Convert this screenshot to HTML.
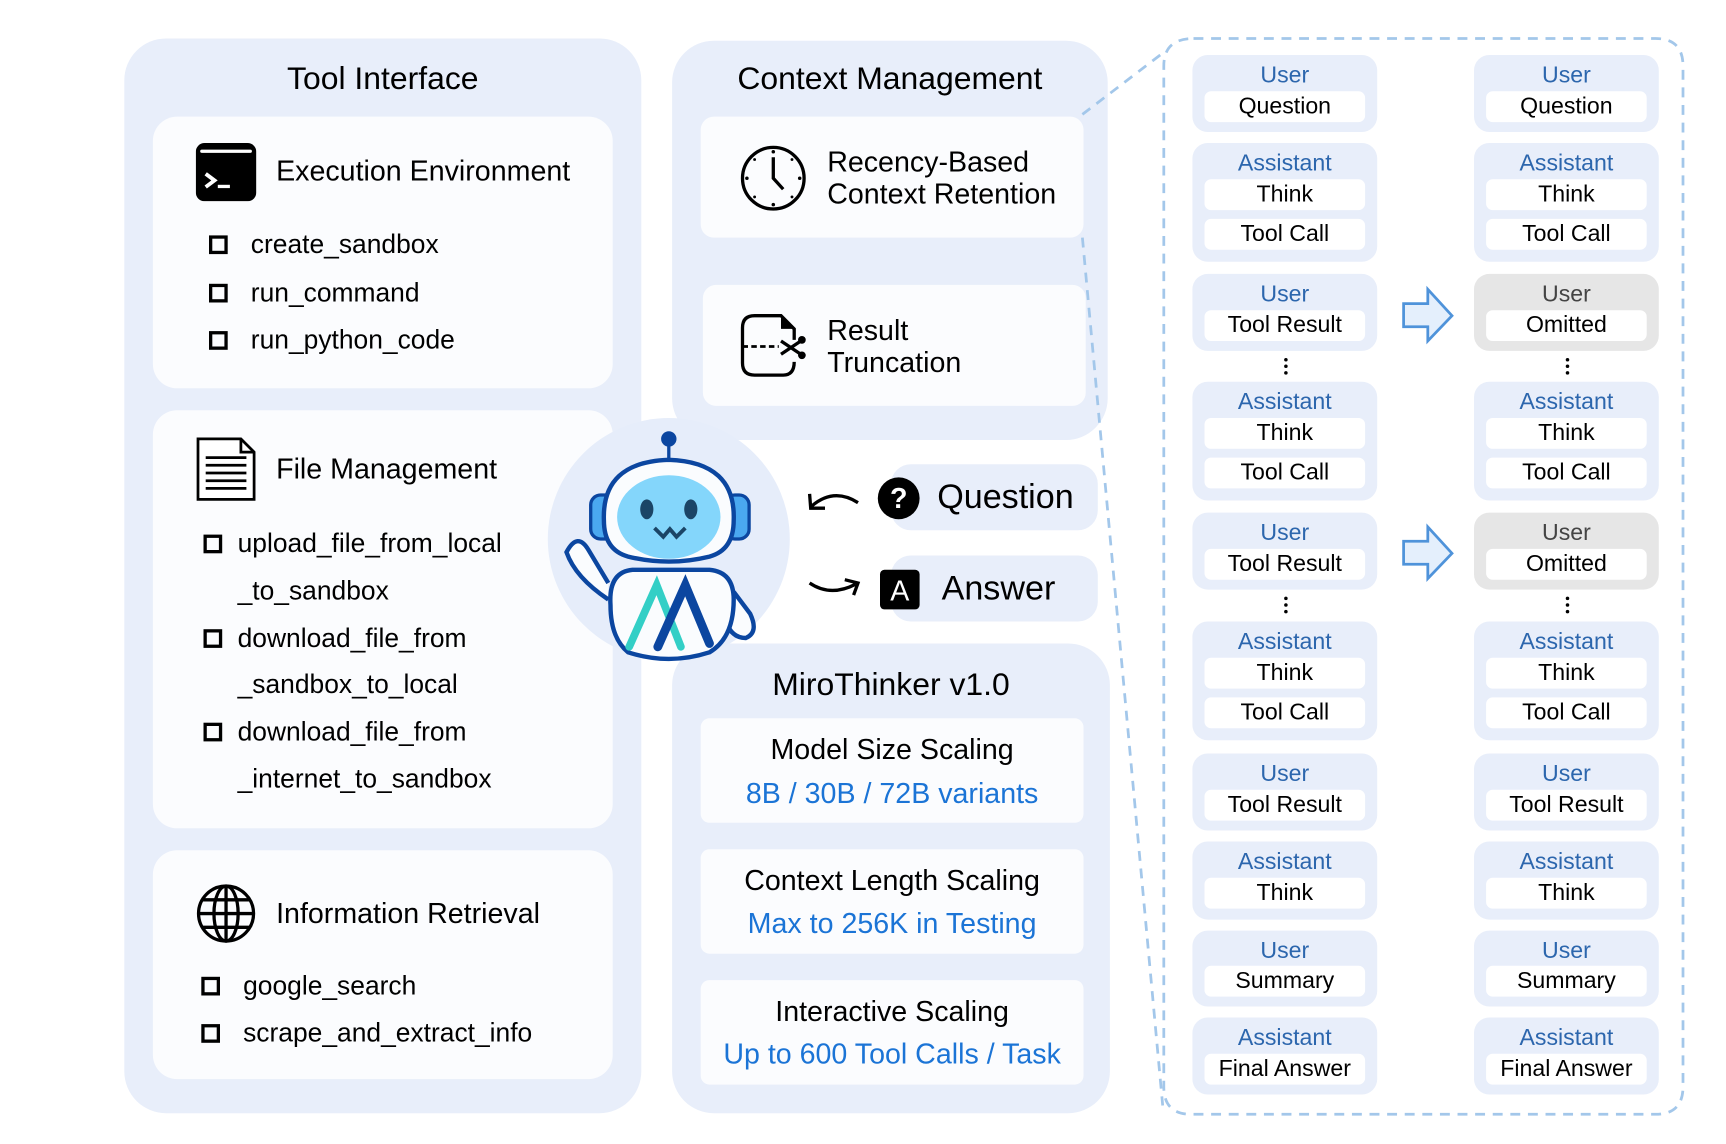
<!DOCTYPE html>
<html><head><meta charset="utf-8"><style>
*{margin:0;padding:0;box-sizing:border-box}
body{width:1726px;height:1144px;overflow:hidden;background:#fff;font-family:"Liberation Sans",sans-serif}
#w{position:absolute;left:0;top:0;width:1570px;height:1040px;transform-origin:0 0;transform:scale(1.1,1.1)}
.a{position:absolute}
.p{position:absolute;background:#e8eefa;border-radius:38px}
.c{position:absolute;background:#fbfcfe;border-radius:22px}
.t{position:absolute;white-space:nowrap;color:#000;line-height:1}
.cb{position:absolute;width:17px;height:17px;border:3.5px solid #000}
.b{position:absolute;background:#e8eefa;border-radius:14px;width:168px}
.b.g{background:#e6e6e6}
.b .l{position:absolute;left:0;width:168px;text-align:center;font-size:21px;color:#2c66ad;line-height:1}
.b.g .l{color:#444}
.b .i{position:absolute;left:11px;width:146px;height:28px;background:#fff;border-radius:6px;text-align:center;font-size:21px;line-height:28px;color:#000}
.bl{color:#1b74d6}
</style></head><body><div id="w">

<div class="p" style="left:113px;top:35px;width:470px;height:977px"></div>
<div class="t" style="left:113px;width:470px;text-align:center;top:58px;font-size:29px">Tool Interface</div>
<div class="c" style="left:139px;top:106px;width:418px;height:247px"></div>
<svg class="a" style="left:178px;top:130px" width="55" height="53" viewBox="0 0 55 53"><rect x="0" y="0" width="55" height="53" rx="8" fill="#000"/><rect x="4" y="6" width="47" height="3" rx="1.5" fill="#fff"/><path d="M9 28 L17 34 L9 40" stroke="#fff" stroke-width="3.5" fill="none"/><rect x="20" y="38" width="11" height="3" fill="#fff"/></svg>
<div class="t" style="left:251px;top:142px;font-size:26px">Execution Environment</div>
<div class="cb" style="left:190px;top:214px"></div><div class="t" style="left:228px;top:211px;font-size:24px">create_sandbox</div>
<div class="cb" style="left:190px;top:258px"></div><div class="t" style="left:228px;top:255px;font-size:24px">run_command</div>
<div class="cb" style="left:190px;top:301px"></div><div class="t" style="left:228px;top:298px;font-size:24px">run_python_code</div>

<div class="c" style="left:139px;top:373px;width:418px;height:380px"></div>
<svg class="a" style="left:177px;top:396px" width="57" height="61" viewBox="0 0 57 61"><path d="M3 3 H42 L54 15 V58 H3 Z" fill="#fff" stroke="#000" stroke-width="2.5"/><path d="M42 3 V15 H54" fill="none" stroke="#000" stroke-width="2.5"/><g stroke="#000" stroke-width="2.5"><line x1="10" y1="20" x2="47" y2="20"/><line x1="10" y1="27" x2="47" y2="27"/><line x1="10" y1="34" x2="47" y2="34"/><line x1="10" y1="41" x2="47" y2="41"/><line x1="10" y1="48" x2="47" y2="48"/></g></svg>
<div class="t" style="left:251px;top:413px;font-size:26px">File Management</div>
<div class="cb" style="left:185px;top:486px"></div><div class="t" style="left:216px;top:483px;font-size:24px">upload_file_from_local</div>
<div class="t" style="left:216px;top:526px;font-size:24px">_to_sandbox</div>
<div class="cb" style="left:185px;top:572px"></div><div class="t" style="left:216px;top:569px;font-size:24px">download_file_from</div>
<div class="t" style="left:216px;top:611px;font-size:24px">_sandbox_to_local</div>
<div class="cb" style="left:185px;top:657px"></div><div class="t" style="left:216px;top:654px;font-size:24px">download_file_from</div>
<div class="t" style="left:216px;top:697px;font-size:24px">_internet_to_sandbox</div>

<div class="c" style="left:139px;top:773px;width:418px;height:208px"></div>
<svg class="a" style="left:178px;top:803px" width="55" height="55" viewBox="0 0 55 55"><g fill="none" stroke="#000" stroke-width="3"><circle cx="27.5" cy="27.5" r="25"/><ellipse cx="27.5" cy="27.5" rx="11" ry="25"/><line x1="27.5" y1="2.5" x2="27.5" y2="52.5"/><line x1="2.5" y1="27.5" x2="52.5" y2="27.5"/><line x1="6" y1="15" x2="49" y2="15"/><line x1="6" y1="40" x2="49" y2="40"/></g></svg>
<div class="t" style="left:251px;top:817px;font-size:26px">Information Retrieval</div>
<div class="cb" style="left:183px;top:888px"></div><div class="t" style="left:221px;top:885px;font-size:24px">google_search</div>
<div class="cb" style="left:183px;top:931px"></div><div class="t" style="left:221px;top:928px;font-size:24px">scrape_and_extract_info</div>

<div class="p" style="left:611px;top:37px;width:396px;height:363px"></div>
<div class="t" style="left:611px;width:396px;text-align:center;top:58px;font-size:29px">Context Management</div>
<div class="c" style="left:637px;top:106px;width:348px;height:110px;border-radius:12px"></div>
<svg class="a" style="left:672px;top:131px" width="62" height="62" viewBox="0 0 62 62"><circle cx="31" cy="31" r="28" fill="none" stroke="#000" stroke-width="3"/><path d="M31 12 V31 L40 41" fill="none" stroke="#000" stroke-width="3"/><g fill="#000"><circle cx="31" cy="7" r="1.6"/><circle cx="31" cy="55" r="1.6"/><circle cx="7" cy="31" r="1.6"/><circle cx="55" cy="31" r="1.6"/><circle cx="14" cy="14" r="1.3"/><circle cx="48" cy="48" r="1.3"/><circle cx="14" cy="48" r="1.3"/><circle cx="48" cy="14" r="1.3"/></g></svg>
<div class="t" style="left:752px;top:134px;font-size:26px">Recency-Based</div>
<div class="t" style="left:752px;top:163px;font-size:26px">Context Retention</div>
<div class="c" style="left:639px;top:259px;width:348px;height:110px;border-radius:12px"></div>
<svg class="a" style="left:672px;top:284px" width="62" height="62" viewBox="0 0 62 62"><path d="M40 57 H14 Q3 57 3 46 V14 Q3 3 14 3 H38 L50 15 V25 M50 45 Q50 57 40 57" fill="none" stroke="#000" stroke-width="3"/><path d="M38 3 L50 15 H38 Z" fill="#000"/><path d="M3 31 H36" stroke="#000" stroke-width="2.5" stroke-dasharray="5 3"/><path d="M38 26 L56 38 M38 38 L56 26" stroke="#000" stroke-width="3"/><circle cx="57" cy="25" r="3.5" fill="#000"/><circle cx="57" cy="39" r="3.5" fill="#000"/></svg>
<div class="t" style="left:752px;top:287px;font-size:26px">Result</div>
<div class="t" style="left:752px;top:316px;font-size:26px">Truncation</div>

<div class="a" style="left:810px;top:422px;width:188px;height:60px;background:#e8eefa;border-radius:18px"></div>
<div class="a" style="left:810px;top:505px;width:188px;height:60px;background:#e8eefa;border-radius:18px"></div>
<svg class="a" style="left:730px;top:435px" width="60" height="110" viewBox="0 0 60 110"><path d="M50 22 Q28 8 8 25" fill="none" stroke="#000" stroke-width="3"/><path d="M6 14 L7 27 L20 27" fill="none" stroke="#000" stroke-width="3"/><path d="M6 95 Q25 108 48 96" fill="none" stroke="#000" stroke-width="3"/><path d="M38 92 L50 95 L46 106" fill="none" stroke="#000" stroke-width="3"/></svg>
<div class="a" style="left:798px;top:434px;width:38px;height:38px;border-radius:50%;background:#000;color:#fff;font-size:26px;font-weight:bold;text-align:center;line-height:38px">?</div>
<div class="t" style="left:852px;top:436px;font-size:31px">Question</div>
<div class="a" style="left:800px;top:518px;width:36px;height:36px;border-radius:4px;background:#000;color:#fff;font-size:26px;text-align:center;line-height:38px">A</div>
<div class="t" style="left:856px;top:519px;font-size:31px">Answer</div>

<div class="p" style="left:611px;top:585px;width:398px;height:427px"></div>
<div class="t" style="left:611px;width:398px;text-align:center;top:609px;font-size:29px">MiroThinker v1.0</div>
<div class="c" style="left:637px;top:653px;width:348px;height:95px;border-radius:8px"></div>
<div class="t" style="left:637px;width:348px;text-align:center;top:668px;font-size:26px">Model Size Scaling</div>
<div class="t bl" style="left:637px;width:348px;text-align:center;top:708px;font-size:26px">8B / 30B / 72B variants</div>
<div class="c" style="left:637px;top:772px;width:348px;height:95px;border-radius:8px"></div>
<div class="t" style="left:637px;width:348px;text-align:center;top:787px;font-size:26px">Context Length Scaling</div>
<div class="t bl" style="left:637px;width:348px;text-align:center;top:826px;font-size:26px">Max to 256K in Testing</div>
<div class="c" style="left:637px;top:891px;width:348px;height:95px;border-radius:8px"></div>
<div class="t" style="left:637px;width:348px;text-align:center;top:906px;font-size:26px">Interactive Scaling</div>
<div class="t bl" style="left:637px;width:348px;text-align:center;top:945px;font-size:26px">Up to 600 Tool Calls / Task</div>

<svg class="a" style="left:495px;top:375px" width="230" height="230" viewBox="0 0 230 230">
<circle cx="113" cy="115" r="110" fill="#e6edfa"/>
<line x1="113" y1="30" x2="113" y2="45" stroke="#0b46a0" stroke-width="3"/>
<circle cx="113" cy="24" r="7" fill="#0b46a0"/>
<rect x="42" y="75" width="22" height="40" rx="9" fill="#4aa8f0" stroke="#0b46a0" stroke-width="3"/>
<rect x="164" y="75" width="22" height="40" rx="9" fill="#4aa8f0" stroke="#0b46a0" stroke-width="3"/>
<path d="M54 98 Q52 45 113 43 Q174 45 172 98 Q172 125 150 131 Q113 140 76 131 Q54 125 54 98 Z" fill="#fafcfe" stroke="#0b46a0" stroke-width="4"/>
<ellipse cx="113" cy="95" rx="47" ry="38" fill="#84d6fb"/>
<ellipse cx="93" cy="88" rx="6" ry="9" fill="#1b4566"/>
<ellipse cx="133" cy="88" rx="6" ry="9" fill="#1b4566"/>
<path d="M100 105 L108 113 L114 106 L120 113 L128 105" fill="none" stroke="#1b4566" stroke-width="3.5"/>
<path d="M58 155 L40 125 Q30 108 20 127 Q28 150 58 170" fill="#fafcfe" stroke="#0b46a0" stroke-width="4"/>
<path d="M172 163 L187 183 Q195 200 183 205 Q170 205 165 190" fill="#fafcfe" stroke="#0b46a0" stroke-width="4"/>
<path d="M60 175 Q58 145 80 143 H150 Q172 145 172 170 Q172 205 150 218 Q113 230 76 218 Q60 205 60 175 Z" fill="#fafcfe" stroke="#0b46a0" stroke-width="4"/>
<path d="M77 213 L102 157 L124 213" fill="none" stroke="#33cfc6" stroke-width="7" stroke-linecap="round"/>
<path d="M103 213 L128 157 L150 210" fill="none" stroke="#0b46a0" stroke-width="8" stroke-linecap="round"/>
</svg>

<svg class="a" style="left:0;top:0" width="1570" height="1040" viewBox="0 0 1570 1040">
<g fill="none" stroke="#a3c7ea" stroke-width="2.5" stroke-dasharray="9 7">
<path d="M984 104 L1060 46"/>
<path d="M984 216 L1057 1005"/>
<path d="M1085 35 H1505 Q1530 35 1530 60 V988 Q1530 1013 1505 1013 H1083 Q1058 1013 1058 988 V60 Q1058 35 1085 35 Z"/>
</g>
<g fill="#e4effc" stroke="#4f93da" stroke-width="2.5">
<path d="M1276 276 H1298 V263 L1320 287 L1298 310 V297 H1276 Z"/>
<path d="M1276 492 H1298 V479 L1320 503 L1298 526 V513 H1276 Z"/>
</g>
<g fill="#000"><circle cx="1169" cy="327" r="1.6"/><circle cx="1169" cy="333" r="1.6"/><circle cx="1169" cy="339" r="1.6"/>
<circle cx="1425" cy="327" r="1.6"/><circle cx="1425" cy="333" r="1.6"/><circle cx="1425" cy="339" r="1.6"/>
<circle cx="1169" cy="544" r="1.6"/><circle cx="1169" cy="550" r="1.6"/><circle cx="1169" cy="556" r="1.6"/>
<circle cx="1425" cy="544" r="1.6"/><circle cx="1425" cy="550" r="1.6"/><circle cx="1425" cy="556" r="1.6"/></g>
</svg>

<div class="b" style="left:1084px;top:50px;height:70px"><div class="l" style="top:8px">User</div><div class="i" style="top:33px">Question</div></div>
<div class="b" style="left:1084px;top:130px;height:108px"><div class="l" style="top:8px">Assistant</div><div class="i" style="top:33px">Think</div><div class="i" style="top:69px">Tool Call</div></div>
<div class="b" style="left:1084px;top:249px;height:70px"><div class="l" style="top:8px">User</div><div class="i" style="top:33px">Tool Result</div></div>
<div class="b" style="left:1084px;top:347px;height:108px"><div class="l" style="top:8px">Assistant</div><div class="i" style="top:33px">Think</div><div class="i" style="top:69px">Tool Call</div></div>
<div class="b" style="left:1084px;top:466px;height:70px"><div class="l" style="top:8px">User</div><div class="i" style="top:33px">Tool Result</div></div>
<div class="b" style="left:1084px;top:565px;height:108px"><div class="l" style="top:8px">Assistant</div><div class="i" style="top:33px">Think</div><div class="i" style="top:69px">Tool Call</div></div>
<div class="b" style="left:1084px;top:685px;height:70px"><div class="l" style="top:8px">User</div><div class="i" style="top:33px">Tool Result</div></div>
<div class="b" style="left:1084px;top:765px;height:71px"><div class="l" style="top:8px">Assistant</div><div class="i" style="top:33px">Think</div></div>
<div class="b" style="left:1084px;top:846px;height:69px"><div class="l" style="top:8px">User</div><div class="i" style="top:32px">Summary</div></div>
<div class="b" style="left:1084px;top:925px;height:70px"><div class="l" style="top:8px">Assistant</div><div class="i" style="top:33px">Final Answer</div></div>

<div class="b" style="left:1340px;top:50px;height:70px"><div class="l" style="top:8px">User</div><div class="i" style="top:33px">Question</div></div>
<div class="b" style="left:1340px;top:130px;height:108px"><div class="l" style="top:8px">Assistant</div><div class="i" style="top:33px">Think</div><div class="i" style="top:69px">Tool Call</div></div>
<div class="b g" style="left:1340px;top:249px;height:70px"><div class="l" style="top:8px">User</div><div class="i" style="top:33px">Omitted</div></div>
<div class="b" style="left:1340px;top:347px;height:108px"><div class="l" style="top:8px">Assistant</div><div class="i" style="top:33px">Think</div><div class="i" style="top:69px">Tool Call</div></div>
<div class="b g" style="left:1340px;top:466px;height:70px"><div class="l" style="top:8px">User</div><div class="i" style="top:33px">Omitted</div></div>
<div class="b" style="left:1340px;top:565px;height:108px"><div class="l" style="top:8px">Assistant</div><div class="i" style="top:33px">Think</div><div class="i" style="top:69px">Tool Call</div></div>
<div class="b" style="left:1340px;top:685px;height:70px"><div class="l" style="top:8px">User</div><div class="i" style="top:33px">Tool Result</div></div>
<div class="b" style="left:1340px;top:765px;height:71px"><div class="l" style="top:8px">Assistant</div><div class="i" style="top:33px">Think</div></div>
<div class="b" style="left:1340px;top:846px;height:69px"><div class="l" style="top:8px">User</div><div class="i" style="top:32px">Summary</div></div>
<div class="b" style="left:1340px;top:925px;height:70px"><div class="l" style="top:8px">Assistant</div><div class="i" style="top:33px">Final Answer</div></div>

</div></body></html>
